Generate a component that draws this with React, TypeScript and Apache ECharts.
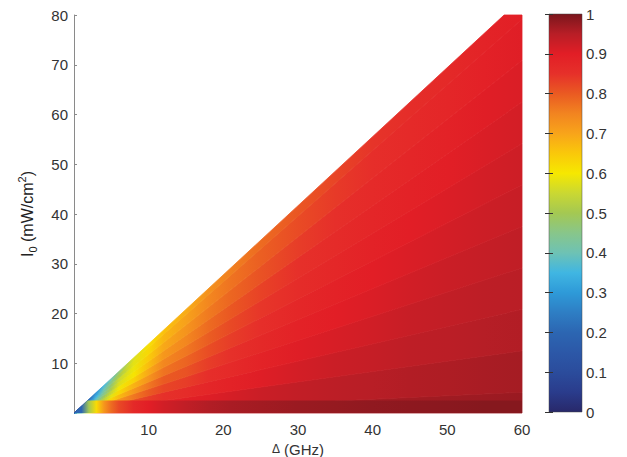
import React, { useEffect, useRef } from "react";
import * as echarts from "echarts";

// ---- axes ----
const X_MAX = 60; // Δ (GHz)
const Y_MAX = 80; // I0 (mW/cm2)
const EDGE_TOP_X = 57.6; // Δ at which the filled region's upper edge reaches I0 = 80

// ---- field ----
// Columns at these Δ values; each row lists the value from the bottom (s = 0)
// to the upper edge (s = 1) of the filled wedge, s = I0 / edge(Δ).
const X_NODES = [1, 2, 3, 4, 5, 6, 8, 10, 12, 15, 18, 21, 25, 30, 35, 40, 45, 50, 55, 60];
const S_NODES = [0, 0.1, 0.2, 0.3, 0.4, 0.5, 0.6, 0.7, 0.8, 0.9, 1.0];
const FIELD = [
  [0.40, 0.36, 0.32, 0.28, 0.25, 0.22, 0.19, 0.17, 0.15, 0.13, 0.12],
  [0.60, 0.55, 0.50, 0.45, 0.40, 0.36, 0.32, 0.29, 0.26, 0.23, 0.21],
  [0.74, 0.70, 0.64, 0.58, 0.52, 0.47, 0.43, 0.39, 0.35, 0.32, 0.29],
  [0.80, 0.76, 0.70, 0.64, 0.58, 0.53, 0.49, 0.45, 0.42, 0.39, 0.36],
  [0.84, 0.80, 0.75, 0.69, 0.63, 0.58, 0.545, 0.51, 0.48, 0.45, 0.41],
  [0.86, 0.82, 0.77, 0.72, 0.67, 0.625, 0.595, 0.57, 0.55, 0.51, 0.47],
  [0.88, 0.85, 0.81, 0.765, 0.72, 0.68, 0.635, 0.605, 0.59, 0.58, 0.57],
  [0.90, 0.87, 0.835, 0.80, 0.765, 0.725, 0.695, 0.665, 0.645, 0.625, 0.615],
  [0.91, 0.88, 0.85, 0.825, 0.80, 0.77, 0.745, 0.72, 0.695, 0.675, 0.66],
  [0.92, 0.895, 0.862, 0.835, 0.81, 0.788, 0.765, 0.745, 0.725, 0.705, 0.69],
  [0.93, 0.905, 0.877, 0.855, 0.835, 0.815, 0.797, 0.78, 0.762, 0.745, 0.73],
  [0.94, 0.915, 0.888, 0.868, 0.85, 0.835, 0.82, 0.803, 0.786, 0.77, 0.755],
  [0.948, 0.928, 0.903, 0.886, 0.87, 0.856, 0.843, 0.828, 0.81, 0.794, 0.78],
  [0.955, 0.938, 0.918, 0.903, 0.888, 0.875, 0.862, 0.85, 0.835, 0.818, 0.805],
  [0.96, 0.945, 0.928, 0.913, 0.90, 0.888, 0.876, 0.864, 0.852, 0.838, 0.825],
  [0.965, 0.95, 0.935, 0.922, 0.91, 0.90, 0.89, 0.878, 0.866, 0.855, 0.845],
  [0.968, 0.955, 0.943, 0.932, 0.92, 0.91, 0.90, 0.888, 0.877, 0.866, 0.857],
  [0.97, 0.958, 0.947, 0.938, 0.928, 0.918, 0.908, 0.898, 0.888, 0.878, 0.87],
  [0.972, 0.962, 0.952, 0.944, 0.935, 0.926, 0.918, 0.91, 0.902, 0.893, 0.885],
  [0.975, 0.965, 0.955, 0.948, 0.94, 0.932, 0.925, 0.918, 0.91, 0.903, 0.898],
];
// darker bottom strip (0 <= I0 <= STRIP_TOP), value at each X_NODES column
const STRIP_TOP = 2.5;
const STRIP = [0.2, 0.5, 0.62, 0.72, 0.78, 0.82, 0.87, 0.9, 0.92, 0.94, 0.955, 0.962, 0.968, 0.974, 0.978, 0.982, 0.985, 0.987, 0.99, 0.99];

// ---- colour scale (0 .. 1 in steps of 0.05) ----
const COLORMAP = [
  "#28286a", "#2a3c8c", "#2b4c9c", "#2c58a8", "#2c66b2", "#2e7ec4", "#2e9ad8",
  "#40b6e2", "#6ec2b4", "#88c68a", "#a4c852", "#cad832", "#f6e800", "#fac80a",
  "#f8a41a", "#f28420", "#ea5a22", "#e6302a", "#e21e26", "#b81e26", "#7a161c",
];

const FONT = '"Liberation Sans", Arial, Helvetica, sans-serif';

function hexToRgb(h: string) {
  const n = parseInt(h.slice(1), 16);
  return [(n >> 16) & 255, (n >> 8) & 255, n & 255];
}
function colorOf(v: number): string {
  const t = Math.max(0, Math.min(1, v));
  const c: any = (echarts as any).color;
  if (c && c.lerp) return c.lerp(t, COLORMAP);
  const p = t * (COLORMAP.length - 1);
  const i = Math.min(COLORMAP.length - 2, Math.floor(p));
  const f = p - i;
  const a = hexToRgb(COLORMAP[i]);
  const b = hexToRgb(COLORMAP[i + 1]);
  const m = a.map((x, k) => Math.round(x + (b[k] - x) * f));
  return `rgb(${m[0]},${m[1]},${m[2]})`;
}

export default function App() {
  const ref = useRef<HTMLDivElement>(null);

  useEffect(() => {
    if (!ref.current) return;
    const chart = echarts.init(ref.current, null, { renderer: "svg" });
    const k = Y_MAX / EDGE_TOP_X;

    // one wedge-shaped band per s node, coloured along Δ with that node's values
    const renderBand = (params: any, api: any) => {
      const j = params.dataIndex;
      const n = S_NODES.length;
      const sLo = j === 0 ? 0 : (S_NODES[j - 1] + S_NODES[j]) / 2;
      const sHi = j === n - 1 ? 1 : (S_NODES[j] + S_NODES[j + 1]) / 2;
      const pts: number[][] = [[0, 0]];
      const yLoEnd = sLo * k * X_MAX;
      const yHiEnd = sHi * k * X_MAX;
      if (yLoEnd <= Y_MAX) {
        pts.push([X_MAX, yLoEnd]);
        pts.push([X_MAX, Math.min(yHiEnd, Y_MAX)]);
      } else {
        pts.push([Y_MAX / (sLo * k), Y_MAX]);
      }
      if (yHiEnd > Y_MAX) pts.push([Y_MAX / (sHi * k), Y_MAX]);
      const px = pts.map((p) => api.coord(p));
      const g0 = api.coord([0, 0]);
      const g1 = api.coord([X_MAX, 0]);
      const stops = () =>
        [{ offset: 0, color: colorOf(FIELD[0][j]) }].concat(
          X_NODES.map((x, i) => ({ offset: x / X_MAX, color: colorOf(FIELD[i][j]) }))
        );
      return {
        type: "polygon",
        shape: { points: px },
        style: {
          fill: new echarts.graphic.LinearGradient(g0[0], g0[1], g1[0], g1[1], stops(), true),
          stroke: new echarts.graphic.LinearGradient(g0[0], g0[1], g1[0], g1[1], stops(), true),
          lineWidth: 0.8,
        },
      };
    };

    const renderStrip = (_params: any, api: any) => {
      const xk = STRIP_TOP / k;
      const pts = [[0, 0], [X_MAX, 0], [X_MAX, STRIP_TOP], [xk, STRIP_TOP]].map((p) => api.coord(p));
      const g0 = api.coord([0, 0]);
      const g1 = api.coord([X_MAX, 0]);
      const stops = [{ offset: 0, color: colorOf(STRIP[0]) }].concat(
        X_NODES.map((x, i) => ({ offset: x / X_MAX, color: colorOf(STRIP[i]) }))
      );
      return {
        type: "polygon",
        shape: { points: pts },
        style: { fill: new echarts.graphic.LinearGradient(g0[0], g0[1], g1[0], g1[1], stops, true) },
      };
    };

    const renderColorbar = (_params: any, api: any) => {
      const pts = [[0, 0], [1, 0], [1, 1], [0, 1]].map((p) => api.coord(p));
      const g0 = api.coord([0, 0]);
      const g1 = api.coord([0, 1]);
      const stops = COLORMAP.map((c, j) => ({ offset: j / (COLORMAP.length - 1), color: c }));
      return {
        type: "polygon",
        shape: { points: pts },
        style: {
          fill: new echarts.graphic.LinearGradient(g0[0], g0[1], g1[0], g1[1], stops, true),
          stroke: "rgba(70,70,70,0.6)",
          lineWidth: 0.8,
        },
      };
    };

    const labelStyle = { fontSize: 15, color: "#333", fontFamily: FONT };

    const option: any = {
      animation: false,
      backgroundColor: "#ffffff",
      grid: [
        { left: 74, top: 15, width: 448, height: 398, outerBoundsMode: "none" },
        { left: 549, top: 14, width: 33, height: 398, outerBoundsMode: "none" },
      ],
      xAxis: [
        {
          type: "value",
          gridIndex: 0,
          min: 0,
          max: X_MAX,
          interval: 10,
          axisLine: { show: false },
          axisTick: { show: false },
          splitLine: { show: false },
          axisLabel: { ...labelStyle, margin: 9, formatter: (v: number) => (v === 0 ? "" : String(v)) },
          name: "{d|Δ} (GHz)",
          nameLocation: "middle",
          nameGap: 27,
          nameTextStyle: {
            fontSize: 15,
            color: "#333",
            fontFamily: FONT,
            rich: { d: { fontSize: 12, color: "#333", fontFamily: FONT } },
          },
        },
        { type: "value", gridIndex: 1, min: 0, max: 1, show: false },
      ],
      yAxis: [
        {
          type: "value",
          gridIndex: 0,
          min: 0,
          max: Y_MAX,
          interval: 10,
          axisLine: { show: true, lineStyle: { color: "#8a8a8a", width: 1 } },
          axisTick: { show: true, inside: true, length: 3, lineStyle: { color: "#8a8a8a" } },
          splitLine: { show: false },
          axisLabel: { ...labelStyle, margin: 6, formatter: (v: number) => (v === 0 ? "" : String(v)) },
          name: "{t|I}{sub|0}{t| (mW/cm}{sup|2}{t|)}",
          nameLocation: "middle",
          nameRotate: 90,
          nameGap: 36,
          nameTextStyle: {
            color: "#222",
            fontFamily: FONT,
            fontSize: 16,
            rich: {
              t: { fontSize: 16, color: "#222", fontFamily: FONT, lineHeight: 22 },
              sub: { fontSize: 11, color: "#222", fontFamily: FONT, verticalAlign: "bottom" },
              sup: { fontSize: 11, color: "#222", fontFamily: FONT, verticalAlign: "top" },
            },
          },
        },
        {
          type: "value",
          gridIndex: 1,
          position: "right",
          min: 0,
          max: 1,
          interval: 0.1,
          z: 10,
          axisLine: { show: false },
          axisTick: { show: true, inside: true, length: 4, lineStyle: { color: "#333" } },
          splitLine: { show: false },
          axisLabel: {
            ...labelStyle,
            margin: 4,
            formatter: (v: number) =>
              Math.abs(v) < 1e-9 ? "0" : Math.abs(v - 1) < 1e-9 ? "1" : v.toFixed(1),
          },
        },
        {
          type: "value",
          gridIndex: 1,
          position: "left",
          min: 0,
          max: 1,
          interval: 0.1,
          z: 10,
          axisLine: { show: false },
          axisTick: { show: true, inside: true, length: 4, lineStyle: { color: "#333" } },
          splitLine: { show: false },
          axisLabel: { show: false },
        },
      ],
      series: [
        {
          type: "custom",
          xAxisIndex: 0,
          yAxisIndex: 0,
          silent: true,
          z: 2,
          data: S_NODES.map((s, j) => [s, j]),
          renderItem: renderBand,
        },
        {
          type: "custom",
          xAxisIndex: 0,
          yAxisIndex: 0,
          silent: true,
          z: 3,
          data: [[0, 0]],
          renderItem: renderStrip,
        },
        {
          type: "custom",
          xAxisIndex: 1,
          yAxisIndex: 1,
          silent: true,
          z: 1,
          data: [[0, 0]],
          renderItem: renderColorbar,
        },
      ],
    };

    chart.setOption(option);
    return () => chart.dispose();
  }, []);

  return (
    <div
      ref={ref}
      style={{ position: "absolute", left: 0, top: 0, width: 627, height: 457, background: "#fff" }}
    />
  );
}
